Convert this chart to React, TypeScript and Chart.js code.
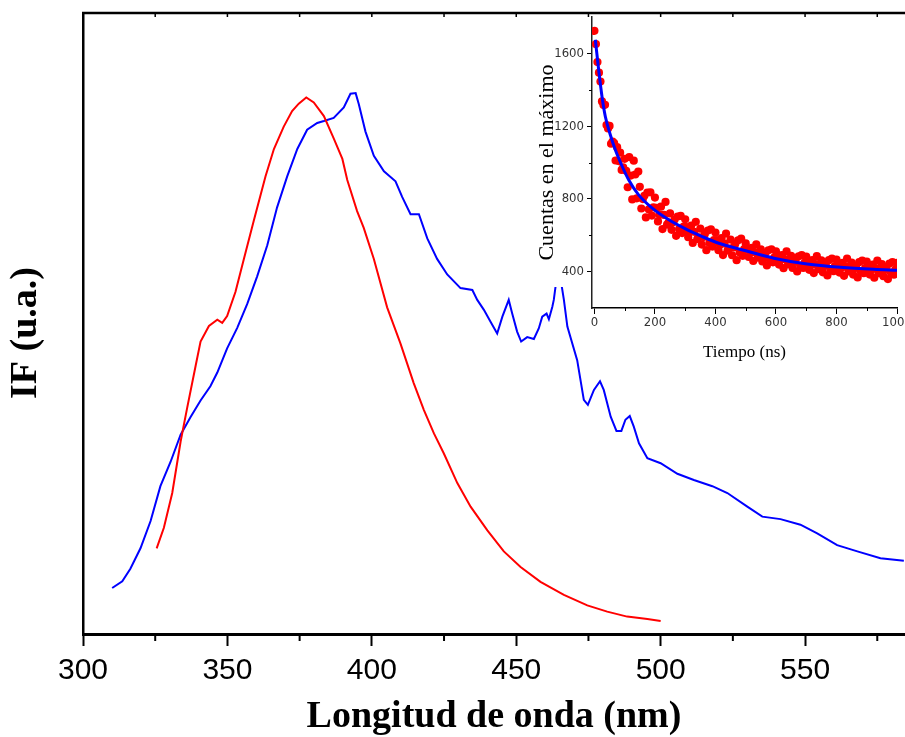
import React, { useEffect, useRef } from 'react';
import { Chart, registerables } from 'chart.js';

Chart.register(...registerables);

// ---------- Main chart data (wavelength nm, intensity a.u.) ----------
const RED_WL = [325.5, 328.0, 330.9, 333.8, 336.1, 339.0, 340.7, 343.6, 346.5, 348.2, 349.9, 352.8, 355.7, 359.1, 363.2, 366.1, 369.5, 372.4, 374.7, 377.3, 379.9, 383.4, 386.8, 389.8, 391.5, 394.9, 397.2, 400.7, 405.3, 409.9, 414.5, 418.0, 421.5, 424.9, 429.6, 434.2, 440.0, 445.7, 451.5, 458.4, 466.5, 474.6, 481.5, 488.4, 495.4, 500.0];
const RED_IF = [13.8, 17.1, 22.7, 31.0, 36.5, 43.2, 47.1, 49.6, 50.6, 50.1, 51.2, 55.1, 60.4, 66.5, 73.7, 78.1, 81.7, 84.2, 85.4, 86.4, 85.6, 83.4, 79.8, 76.5, 73.1, 68.1, 65.4, 60.4, 52.6, 46.8, 40.4, 36.1, 32.3, 29.1, 24.3, 20.5, 16.7, 13.3, 10.8, 8.4, 6.3, 4.6, 3.6, 2.8, 2.4, 2.1];

const BLUE_WL = [310.1, 313.6, 316.4, 319.9, 323.4, 326.8, 330.3, 333.8, 337.2, 340.7, 344.1, 346.5, 349.9, 353.4, 356.9, 360.3, 363.8, 367.2, 370.7, 374.2, 377.6, 381.1, 383.4, 386.8, 390.3, 392.6, 394.4, 395.5, 397.8, 400.7, 404.2, 408.2, 410.5, 413.4, 416.3, 419.2, 422.6, 426.1, 430.7, 434.8, 436.5, 438.8, 441.1, 443.4, 445.2, 447.4, 448.6, 450.3, 451.7, 453.8, 456.1, 457.8, 459.0, 460.5, 461.3, 462.5, 463.0, 464.6, 466.5, 467.7, 471.1, 473.4, 474.8, 476.9, 479.0, 480.3, 482.7, 484.7, 486.4, 487.8, 489.3, 490.7, 492.5, 495.4, 500.0, 505.8, 511.5, 517.9, 523.1, 530.0, 535.2, 541.5, 548.4, 554.2, 561.1, 568.1, 576.1, 584.2];
const BLUE_IF = [7.4, 8.5, 10.5, 13.8, 18.2, 23.8, 27.7, 32.1, 34.9, 37.6, 39.9, 42.1, 46.0, 49.3, 53.2, 57.6, 62.6, 68.7, 73.7, 78.1, 81.2, 82.3, 82.6, 83.1, 84.8, 87.0, 87.1, 85.3, 80.9, 77.0, 74.5, 72.9, 70.4, 67.6, 67.6, 63.7, 60.4, 57.9, 55.7, 55.4, 53.8, 52.2, 50.3, 48.4, 51.1, 53.8, 51.6, 48.7, 47.1, 47.8, 47.5, 49.2, 51.1, 51.6, 50.7, 52.7, 53.8, 59.4, 53.8, 49.5, 44.1, 37.7, 36.9, 39.3, 40.7, 39.3, 35.0, 32.7, 32.7, 34.5, 35.1, 33.4, 30.7, 28.3, 27.5, 25.8, 24.8, 23.8, 22.7, 20.5, 18.9, 18.5, 17.6, 16.2, 14.3, 13.3, 12.2, 11.8];

const X_TICKS = [300, 350, 400, 450, 500, 550];
const X_MINOR = [325, 375, 425, 475, 525, 575];
const X_TOP_TICKS = [325, 350, 375, 400, 425, 450, 475, 500, 525, 550, 575];

// ---------- Inset data (time ns, counts) ----------
const DECAY_T_STEP = 5;
const DECAY_COUNTS = [
  1724, 1651, 1552, 1494, 1445, 1336, 1316, 1317, 1206, 1187,
  1201, 1103, 1115, 1107, 1011, 1084, 1008, 1054, 959, 974,
  1020, 954, 864, 1030, 928, 797, 1010, 934, 803, 950,
  866, 747, 799, 817, 698, 835, 742, 836, 708, 754,
  807, 750, 676, 713, 757, 634, 712, 783, 658, 669,
  720, 630, 671, 686, 597, 703, 634, 707, 612, 647,
  688, 645, 589, 618, 653, 558, 619, 674, 579, 588,
  636, 549, 590, 607, 518, 626, 558, 632, 538, 573,
  615, 573, 518, 548, 584, 491, 554, 609, 516, 527,
  576, 490, 533, 551, 463, 572, 505, 581, 487, 524,
  555, 523, 481, 504, 531, 459, 507, 550, 477, 485,
  523, 456, 489, 502, 434, 517, 465, 523, 451, 479,
  512, 480, 439, 462, 491, 419, 468, 511, 440, 448,
  487, 420, 454, 467, 401, 484, 433, 491, 420, 449,
  483, 452, 410, 434, 463, 392, 441, 485, 414, 423,
  462, 396, 431, 445, 379, 463, 413, 472, 402, 431,
  466, 435, 395, 419, 448, 377, 427, 471, 401, 410,
  450, 384, 419, 433, 368, 452, 402, 461, 391, 420,
  455, 424, 384, 408, 438, 367, 417, 461, 391, 401,
  441, 375, 410, 425, 359, 444, 394, 453, 383, 413,
  448
];
const FIT_T = [3, 14, 25, 36, 53, 69, 92, 113, 146, 191, 246, 301, 356, 411, 490, 593, 703, 813, 923, 1000];
const FIT_COUNTS = [1675, 1510, 1363, 1253, 1150, 1070, 978, 905, 822, 749, 685, 635, 593, 556, 519, 474, 442, 424, 413, 408];

const INSET_X_TICKS = [0, 200, 400, 600, 800, 1000];
const INSET_X_MINOR = [100, 300, 500, 700, 900];
const INSET_Y_TICKS = [400, 800, 1200, 1600];
const INSET_Y_MINOR = [600, 1000, 1400];

const SANS = '"Liberation Sans", Arial, sans-serif';
const NARROW = '"Liberation Sans Narrow", "DejaVu Sans Condensed", "Liberation Sans", Arial, sans-serif';
const SERIF = '"Liberation Serif", "Times New Roman", serif';

const zeroPad = (s: any) => {
  s.paddingLeft = 0;
  s.paddingRight = 0;
  s.paddingTop = 0;
  s.paddingBottom = 0;
};

const plainLabel = (v: any) => String(v);

const mainDecor = {
  id: 'mainDecor',
  afterDraw(chart: any) {
    const { ctx, chartArea } = chart;
    const xs = chart.scales.x;
    ctx.save();
    ctx.strokeStyle = '#000';
    ctx.lineWidth = 2.5;
    ctx.beginPath();
    ctx.moveTo(chartArea.left - 1, chartArea.top);
    ctx.lineTo(chartArea.right, chartArea.top);
    ctx.stroke();
    ctx.lineWidth = 1.5;
    for (const v of X_TOP_TICKS) {
      const px = xs.getPixelForValue(v);
      ctx.beginPath();
      ctx.moveTo(px, chartArea.top);
      ctx.lineTo(px, chartArea.top + 4);
      ctx.stroke();
    }
    ctx.lineWidth = 2;
    for (const v of X_MINOR) {
      const px = xs.getPixelForValue(v);
      ctx.beginPath();
      ctx.moveTo(px, chartArea.bottom);
      ctx.lineTo(px, chartArea.bottom + 7);
      ctx.stroke();
    }
    ctx.restore();
  },
};

const insetDecor = {
  id: 'insetDecor',
  beforeDraw(chart: any) {
    const { ctx } = chart;
    ctx.save();
    ctx.fillStyle = '#ffffff';
    ctx.fillRect(2, 38, 443, 249);
    ctx.restore();
  },
  afterDraw(chart: any) {
    const { ctx, chartArea } = chart;
    const xs = chart.scales.x;
    const ys = chart.scales.y;
    ctx.save();
    ctx.strokeStyle = '#000';
    ctx.lineWidth = 1;
    for (const v of INSET_X_MINOR) {
      const px = Math.round(xs.getPixelForValue(v)) + 0.5;
      ctx.beginPath();
      ctx.moveTo(px, chartArea.bottom);
      ctx.lineTo(px, chartArea.bottom + 3);
      ctx.stroke();
    }
    for (const v of INSET_Y_MINOR) {
      const py = Math.round(ys.getPixelForValue(v)) + 0.5;
      ctx.beginPath();
      ctx.moveTo(chartArea.left, py);
      ctx.lineTo(chartArea.left - 3, py);
      ctx.stroke();
    }
    ctx.restore();
  },
};

export default function App() {
  const mainRef = useRef<HTMLCanvasElement>(null);
  const insetRef = useRef<HTMLCanvasElement>(null);

  useEffect(() => {
    const red = RED_WL.map((x, i) => ({ x, y: RED_IF[i] }));
    const blue = BLUE_WL.map((x, i) => ({ x, y: BLUE_IF[i] }));
    const main = new Chart(mainRef.current as HTMLCanvasElement, {
      type: 'line',
      data: {
        datasets: [
          { data: red, borderColor: '#ff0000', borderWidth: 2, pointRadius: 0, tension: 0, fill: false },
          { data: blue, borderColor: '#0000ff', borderWidth: 2, pointRadius: 0, tension: 0, fill: false },
        ],
      },
      options: {
        animation: false,
        responsive: false,
        devicePixelRatio: 1,
        layout: { padding: { top: 13, right: 0, bottom: 0, left: 0 } },
        plugins: { legend: { display: false }, tooltip: { enabled: false } },
        scales: {
          x: {
            type: 'linear',
            min: 300,
            max: 584.6,
            afterBuildTicks: (s: any) => {
              s.ticks = X_TICKS.map((v) => ({ value: v }));
            },
            afterFit: (s: any) => {
              s.height = 103;
              zeroPad(s);
            },
            grid: { display: true, drawOnChartArea: false, drawTicks: true, tickLength: 12, tickWidth: 2, tickColor: '#000', color: '#000' },
            border: { display: true, color: '#000', width: 3 },
            ticks: { color: '#000', font: { family: SANS, size: 30 }, padding: 7, maxRotation: 0, autoSkip: false, callback: plainLabel },
            title: {
              display: true,
              text: 'Longitud de onda (nm)',
              color: '#000',
              font: { family: SERIF, size: 38, weight: 'bold', lineHeight: 1 },
              padding: { top: 0, bottom: 1 },
            },
          },
          y: {
            type: 'linear',
            min: 0,
            max: 100,
            afterFit: (s: any) => {
              s.width = 83;
              zeroPad(s);
            },
            grid: { display: false },
            border: { display: true, color: '#000', width: 2.5 },
            ticks: { display: false },
            title: {
              display: true,
              text: 'IF (u.a.)  ',
              color: '#000',
              font: { family: SERIF, size: 38, weight: 'bold', lineHeight: 1.2 },
              padding: { top: 3.5, bottom: 0 },
            },
          },
        },
      } as any,
      plugins: [mainDecor],
    });

    const decay = DECAY_COUNTS.map((y, i) => ({ x: i * DECAY_T_STEP, y }));
    const fit = FIT_T.map((x, i) => ({ x, y: FIT_COUNTS[i] }));
    const inset = new Chart(insetRef.current as HTMLCanvasElement, {
      type: 'scatter',
      data: {
        datasets: [
          {
            data: fit,
            showLine: true,
            borderColor: '#0000ff',
            borderWidth: 3,
            pointRadius: 0,
            cubicInterpolationMode: 'monotone',
            order: 0,
          },
          {
            data: decay,
            showLine: false,
            pointRadius: 4.1,
            pointBackgroundColor: '#ff0000',
            pointBorderWidth: 0,
            borderColor: '#ff0000',
            order: 1,
          },
        ],
      },
      options: {
        animation: false,
        responsive: false,
        devicePixelRatio: 1,
        layout: { padding: { top: 17, right: 8, bottom: 0, left: 0 } },
        plugins: { legend: { display: false }, tooltip: { enabled: false } },
        scales: {
          x: {
            type: 'linear',
            min: -8,
            max: 1000,
            afterBuildTicks: (s: any) => {
              s.ticks = INSET_X_TICKS.map((v) => ({ value: v }));
            },
            afterFit: (s: any) => {
              s.height = 62;
              zeroPad(s);
            },
            grid: { display: true, drawOnChartArea: false, drawTicks: true, tickLength: 6, tickWidth: 1, tickColor: '#000', color: '#000' },
            border: { display: true, color: '#000', width: 1.5 },
            ticks: { color: '#333', font: { family: NARROW, size: 13 }, padding: 1, maxRotation: 0, autoSkip: false, callback: plainLabel },
            title: {
              display: true,
              text: 'Tiempo (ns)',
              color: '#000',
              font: { family: SERIF, size: 17, lineHeight: 1 },
              padding: { top: 0, bottom: 9 },
            },
          },
          y: {
            type: 'linear',
            min: 200,
            max: 1800,
            afterBuildTicks: (s: any) => {
              s.ticks = INSET_Y_TICKS.map((v) => ({ value: v }));
            },
            afterFit: (s: any) => {
              s.width = 132;
              zeroPad(s);
            },
            grid: { display: true, drawOnChartArea: false, drawTicks: true, tickLength: 5, tickWidth: 1, tickColor: '#000', color: '#000' },
            border: { display: true, color: '#222', width: 1.5 },
            ticks: { color: '#333', font: { family: NARROW, size: 13 }, padding: 3, callback: plainLabel },
            title: {
              display: true,
              text: 'Cuentas en el máximo',
              color: '#000',
              font: { family: SERIF, size: 22, lineHeight: 1.2 },
              padding: { top: 74.4, bottom: 0 },
            },
          },
        },
      } as any,
      plugins: [insetDecor],
    });

    return () => {
      main.destroy();
      inset.destroy();
    };
  }, []);

  return (
    <div style={{ position: 'fixed', left: 0, top: 0, width: 905, height: 737, background: '#fff', overflow: 'hidden' }}>
      <canvas ref={mainRef} width={905} height={737} style={{ position: 'absolute', left: 0, top: 0, display: 'block' }} />
      <canvas ref={insetRef} width={445} height={370} style={{ position: 'absolute', left: 460, top: 0, display: 'block' }} />
    </div>
  );
}
